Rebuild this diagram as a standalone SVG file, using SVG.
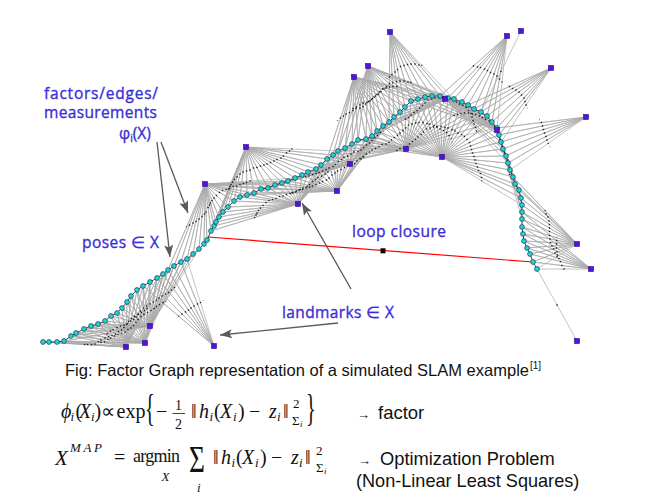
<svg xmlns="http://www.w3.org/2000/svg" width="648" height="503" viewBox="0 0 648 503">
<style>
.ln{fill:none;stroke:#ababab;stroke-width:.7;stroke-linejoin:round}
.fd{fill:none;stroke:none;marker-start:url(#md);marker-mid:url(#md);marker-end:url(#md)}
.tr{fill:none;stroke:#303030;stroke-width:.9;marker-start:url(#mp);marker-mid:url(#mp);marker-end:url(#mp)}
.lm{fill:#5212e0;stroke:#2b0a80;stroke-width:.6}
.lb{font-family:"Open Sans","Noto Sans",sans-serif;font-size:15.5px;fill:#3a2fd6;stroke:#3a2fd6;stroke-width:.35px}
.ar{stroke:#5a5a5a;stroke-width:1.3;fill:none;marker-end:url(#ah)}
.cap{font-family:"Liberation Sans",Arial,sans-serif;fill:#111}
.m{font-family:"Liberation Serif","Times New Roman",serif;fill:#111;font-size:20px}
.big{font-family:"Liberation Serif","Times New Roman",serif;fill:#111;font-size:37px}
.i{font-style:italic}
.s{font-size:13px}
.ss{font-size:9px;font-style:italic}
</style>
<defs>
<polyline id="tp" points="43,342 49,342 57,342 64,341 71,336 76,333 84,329 91,326 98,324 105,321 111,316 117,313 122,308 127,302 131,296 137,290 143,286 150,282 157,278 163,274 168,270 174,266 181,262 187,259 193,254 199,249 204,244 207,240 211,231 214,226 216,222 219,217 223,212 228,207 234,201 240,197 247,195 254,193 261,189 268,188 275,185 282,183 288,181 295,178 302,175 308,172 316,169 321,165 327,159 333,155 338,151 345,148 352,144 358,140 366,139 372,136 377,131 383,126 389,122 394,117 400,112 405,107 411,101 418,99 425,97 432,96 440,96 448,98 454,99 462,102 468,105 474,109 481,112 487,116 492,122 497,128 499,135 501,142 503,149 506,156 508,163 510,170 513,177 515,184 519,190 521,198 522,205 522,212 522,219 522,227 523,234 524,241 527,248 530,254 533,262 537,269"/>
<marker id="mp" markerUnits="userSpaceOnUse" markerWidth="8" markerHeight="8" refX="4" refY="4" overflow="visible"><circle cx="4" cy="4" r="2.4" fill="#1ed6d6" stroke="#1d3550" stroke-width=".7"/></marker>
<marker id="md" markerUnits="userSpaceOnUse" markerWidth="4" markerHeight="4" refX="2" refY="2" overflow="visible"><rect x="0.6" y="0.6" width="2.8" height="2.8" fill="#1a1a1a"/></marker>
<marker id="ah" markerUnits="userSpaceOnUse" markerWidth="13" markerHeight="10" refX="12" refY="5" orient="auto" overflow="visible"><path d="M0,0.5 L12,5 L0,9.5 L2.5,5 Z" fill="#5a5a5a"/></marker>
<clipPath id="k1"><circle cx="126" cy="347" r="46.8"/></clipPath>
<clipPath id="k2"><circle cx="145" cy="343" r="46.8"/></clipPath>
<clipPath id="k3"><circle cx="150" cy="326" r="46.8"/></clipPath>
<clipPath id="k4"><circle cx="214" cy="346" r="46.8"/></clipPath>
<clipPath id="k5"><circle cx="205" cy="184" r="46.8"/></clipPath>
<clipPath id="k6"><circle cx="246" cy="147" r="46.8"/></clipPath>
<clipPath id="k7"><circle cx="298" cy="204" r="46.8"/></clipPath>
<clipPath id="k8"><circle cx="337" cy="191" r="46.8"/></clipPath>
<clipPath id="k9"><circle cx="350" cy="164" r="46.8"/></clipPath>
<clipPath id="k10"><circle cx="354" cy="77" r="46.8"/></clipPath>
<clipPath id="k11"><circle cx="368" cy="66" r="46.8"/></clipPath>
<clipPath id="k12"><circle cx="390" cy="32" r="46.8"/></clipPath>
<clipPath id="k13"><circle cx="406" cy="149" r="46.8"/></clipPath>
<clipPath id="k14"><circle cx="442" cy="157" r="46.8"/></clipPath>
<clipPath id="k15"><circle cx="445" cy="99" r="46.8"/></clipPath>
<clipPath id="k16"><circle cx="497" cy="130" r="46.8"/></clipPath>
<clipPath id="k17"><circle cx="507" cy="36" r="46.8"/></clipPath>
<clipPath id="k19"><circle cx="551" cy="68" r="46.8"/></clipPath>
<clipPath id="k20"><circle cx="586" cy="117" r="46.8"/></clipPath>
<clipPath id="k21"><circle cx="577" cy="244" r="46.8"/></clipPath>
<clipPath id="k22"><circle cx="591" cy="269" r="46.8"/></clipPath>
</defs>
<rect width="648" height="503" fill="#fff"/>

<g id="connectors">
<g id="measurements">
<path class="ln" d="M126 347 43 342 126 347 49 342 126 347 57 342 126 347 64 341 126 347 71 336 126 347 76 333 126 347 84 329 126 347 91 326 126 347 98 324 126 347 105 321 126 347 111 316 126 347 117 313 126 347 122 308 126 347 127 302 126 347 131 296 126 347 137 290 126 347 143 286 126 347 150 282 126 347 157 278 126 347 163 274 126 347 168 270"/>
<path class="ln" d="M145 343 57 342 145 343 64 341 145 343 71 336 145 343 76 333 145 343 84 329 145 343 91 326 145 343 98 324 145 343 105 321 145 343 111 316 145 343 117 313 145 343 122 308 145 343 127 302 145 343 131 296 145 343 137 290 145 343 143 286 145 343 150 282 145 343 157 278 145 343 163 274 145 343 168 270 145 343 174 266 145 343 181 262"/>
<path class="ln" d="M150 326 64 341 150 326 71 336 150 326 76 333 150 326 84 329 150 326 91 326 150 326 98 324 150 326 105 321 150 326 111 316 150 326 117 313 150 326 122 308 150 326 127 302 150 326 131 296 150 326 137 290 150 326 143 286 150 326 150 282 150 326 157 278 150 326 163 274 150 326 168 270 150 326 174 266 150 326 181 262 150 326 187 259 150 326 193 254 150 326 199 249"/>
<path class="ln" d="M214 346 143 286 214 346 150 282 214 346 157 278 214 346 163 274 214 346 168 270 214 346 174 266 214 346 181 262 214 346 187 259"/>
<path class="ln" d="M205 184 168 270 205 184 174 266 205 184 181 262 205 184 187 259 205 184 193 254 205 184 199 249 205 184 204 244 205 184 207 240 205 184 211 231 205 184 214 226 205 184 216 222 205 184 219 217 205 184 223 212 205 184 228 207 205 184 234 201 205 184 240 197 205 184 247 195 205 184 254 193 205 184 261 189 205 184 268 188 205 184 275 185 205 184 282 183 205 184 288 181 205 184 295 178"/>
<path class="ln" d="M246 147 211 231 246 147 214 226 246 147 216 222 246 147 219 217 246 147 223 212 246 147 228 207 246 147 234 201 246 147 240 197 246 147 247 195 246 147 254 193 246 147 261 189 246 147 268 188 246 147 275 185 246 147 282 183 246 147 288 181 246 147 295 178 246 147 302 175 246 147 308 172 246 147 316 169 246 147 321 165 246 147 327 159 246 147 333 155 246 147 338 151"/>
<path class="ln" d="M298 204 211 231 298 204 214 226 298 204 216 222 298 204 219 217 298 204 223 212 298 204 228 207 298 204 234 201 298 204 240 197 298 204 247 195 298 204 254 193 298 204 261 189 298 204 268 188 298 204 275 185 298 204 282 183 298 204 288 181 298 204 295 178 298 204 302 175 298 204 308 172 298 204 316 169 298 204 321 165 298 204 327 159 298 204 333 155 298 204 338 151 298 204 345 148 298 204 352 144 298 204 358 140"/>
<path class="ln" d="M337 191 247 195 337 191 254 193 337 191 261 189 337 191 268 188 337 191 275 185 337 191 282 183 337 191 288 181 337 191 295 178 337 191 302 175 337 191 308 172 337 191 316 169 337 191 321 165 337 191 327 159 337 191 333 155 337 191 338 151 337 191 345 148 337 191 352 144 337 191 358 140 337 191 366 139 337 191 372 136 337 191 377 131 337 191 383 126 337 191 389 122 337 191 394 117"/>
<path class="ln" d="M350 164 261 189 350 164 268 188 350 164 275 185 350 164 282 183 350 164 288 181 350 164 295 178 350 164 302 175 350 164 308 172 350 164 316 169 350 164 321 165 350 164 327 159 350 164 333 155 350 164 338 151 350 164 345 148 350 164 352 144 350 164 358 140 350 164 366 139 350 164 372 136 350 164 377 131 350 164 383 126 350 164 389 122 350 164 394 117 350 164 400 112 350 164 405 107 350 164 411 101"/>
<path class="ln" d="M354 77 327 159 354 77 333 155 354 77 338 151 354 77 345 148 354 77 352 144 354 77 358 140 354 77 366 139 354 77 372 136 354 77 377 131 354 77 383 126 354 77 389 122 354 77 394 117 354 77 400 112 354 77 405 107 354 77 411 101 354 77 418 99 354 77 425 97 354 77 432 96 354 77 440 96"/>
<path class="ln" d="M368 66 338 151 368 66 345 148 368 66 352 144 368 66 358 140 368 66 366 139 368 66 372 136 368 66 377 131 368 66 383 126 368 66 389 122 368 66 394 117 368 66 400 112 368 66 405 107 368 66 411 101 368 66 418 99 368 66 425 97 368 66 432 96 368 66 440 96 368 66 448 98 368 66 454 99"/>
<path class="ln" d="M390 32 389 122 390 32 394 117 390 32 400 112 390 32 405 107 390 32 411 101 390 32 418 99 390 32 425 97 390 32 432 96 390 32 440 96 390 32 448 98 390 32 454 99"/>
<path class="ln" d="M406 149 316 169 406 149 321 165 406 149 327 159 406 149 333 155 406 149 338 151 406 149 345 148 406 149 352 144 406 149 358 140 406 149 366 139 406 149 372 136 406 149 377 131 406 149 383 126 406 149 389 122 406 149 394 117 406 149 400 112 406 149 405 107 406 149 411 101 406 149 418 99 406 149 425 97 406 149 432 96 406 149 440 96 406 149 448 98 406 149 454 99 406 149 462 102 406 149 468 105 406 149 474 109 406 149 481 112 406 149 487 116 406 149 492 122 406 149 497 128"/>
<path class="ln" d="M442 157 352 144 442 157 358 140 442 157 366 139 442 157 372 136 442 157 377 131 442 157 383 126 442 157 389 122 442 157 394 117 442 157 400 112 442 157 405 107 442 157 411 101 442 157 418 99 442 157 425 97 442 157 432 96 442 157 440 96 442 157 448 98 442 157 454 99 442 157 462 102 442 157 468 105 442 157 474 109 442 157 481 112 442 157 487 116 442 157 492 122 442 157 497 128 442 157 499 135 442 157 501 142 442 157 503 149 442 157 506 156 442 157 508 163 442 157 510 170 442 157 513 177 442 157 515 184 442 157 519 190 442 157 521 198 442 157 522 205"/>
<path class="ln" d="M445 99 366 139 445 99 372 136 445 99 377 131 445 99 383 126 445 99 389 122 445 99 394 117 445 99 400 112 445 99 405 107 445 99 411 101 445 99 418 99 445 99 425 97 445 99 432 96 445 99 440 96 445 99 448 98 445 99 454 99 445 99 462 102 445 99 468 105 445 99 474 109 445 99 481 112 445 99 487 116 445 99 492 122 445 99 497 128 445 99 499 135 445 99 501 142 445 99 503 149 445 99 506 156 445 99 508 163"/>
<path class="ln" d="M497 130 411 101 497 130 418 99 497 130 425 97 497 130 432 96 497 130 440 96 497 130 448 98 497 130 454 99 497 130 462 102 497 130 468 105 497 130 474 109 497 130 481 112 497 130 487 116 497 130 492 122 497 130 499 135 497 130 501 142 497 130 503 149 497 130 506 156 497 130 508 163 497 130 510 170 497 130 513 177 497 130 515 184 497 130 519 190 497 130 521 198 497 130 522 205 497 130 522 212 497 130 522 219"/>
<path class="ln" d="M507 36 440 96 507 36 448 98 507 36 454 99 507 36 462 102 507 36 468 105 507 36 474 109 507 36 481 112 507 36 487 116 507 36 492 122 507 36 497 128"/>
<path class="ln" d="M521 31 481 112"/>
<path class="ln" d="M551 68 468 105 551 68 474 109 551 68 481 112 551 68 487 116 551 68 492 122 551 68 497 128 551 68 499 135 551 68 501 142"/>
<path class="ln" d="M586 117 497 128 586 117 499 135 586 117 501 142 586 117 503 149 586 117 506 156 586 117 508 163 586 117 510 170"/>
<path class="ln" d="M577 244 513 177 577 244 515 184 577 244 519 190 577 244 521 198 577 244 522 205 577 244 522 212 577 244 522 219 577 244 522 227 577 244 523 234 577 244 524 241 577 244 527 248 577 244 530 254 577 244 533 262 577 244 537 269"/>
<path class="ln" d="M591 269 522 212 591 269 522 219 591 269 522 227 591 269 523 234 591 269 524 241 591 269 527 248 591 269 530 254 591 269 533 262 591 269 537 269"/>
<path class="ln" d="M577 341 537 269"/>
</g>
<g id="factor-nodes">
<g clip-path="url(#k1)"><use href="#tp" class="fd" transform="translate(63 173.5) scale(.5)"/></g>
<g clip-path="url(#k2)"><use href="#tp" class="fd" transform="translate(72.5 171.5) scale(.5)"/></g>
<g clip-path="url(#k3)"><use href="#tp" class="fd" transform="translate(75 163) scale(.5)"/></g>
<g clip-path="url(#k4)"><use href="#tp" class="fd" transform="translate(107 173) scale(.5)"/></g>
<g clip-path="url(#k5)"><use href="#tp" class="fd" transform="translate(102.5 92) scale(.5)"/></g>
<g clip-path="url(#k6)"><use href="#tp" class="fd" transform="translate(123 73.5) scale(.5)"/></g>
<g clip-path="url(#k7)"><use href="#tp" class="fd" transform="translate(149 102) scale(.5)"/></g>
<g clip-path="url(#k8)"><use href="#tp" class="fd" transform="translate(168.5 95.5) scale(.5)"/></g>
<g clip-path="url(#k9)"><use href="#tp" class="fd" transform="translate(175 82) scale(.5)"/></g>
<g clip-path="url(#k10)"><use href="#tp" class="fd" transform="translate(177 38.5) scale(.5)"/></g>
<g clip-path="url(#k11)"><use href="#tp" class="fd" transform="translate(184 33) scale(.5)"/></g>
<g clip-path="url(#k12)"><use href="#tp" class="fd" transform="translate(195 16) scale(.5)"/></g>
<g clip-path="url(#k13)"><use href="#tp" class="fd" transform="translate(203 74.5) scale(.5)"/></g>
<g clip-path="url(#k14)"><use href="#tp" class="fd" transform="translate(221 78.5) scale(.5)"/></g>
<g clip-path="url(#k15)"><use href="#tp" class="fd" transform="translate(222.5 49.5) scale(.5)"/></g>
<g clip-path="url(#k16)"><use href="#tp" class="fd" transform="translate(248.5 65) scale(.5)"/></g>
<g clip-path="url(#k17)"><use href="#tp" class="fd" transform="translate(253.5 18) scale(.5)"/></g>
<g clip-path="url(#k19)"><use href="#tp" class="fd" transform="translate(275.5 34) scale(.5)"/></g>
<g clip-path="url(#k20)"><use href="#tp" class="fd" transform="translate(293 58.5) scale(.5)"/></g>
<g clip-path="url(#k21)"><use href="#tp" class="fd" transform="translate(288.5 122) scale(.5)"/></g>
<g clip-path="url(#k22)"><use href="#tp" class="fd" transform="translate(295.5 134.5) scale(.5)"/></g>
<rect x="500.3" y="70.8" width="1.4" height="1.4" fill="#1a1a1a"/>
<rect x="556.3" y="304.3" width="1.4" height="1.4" fill="#1a1a1a"/>
</g>
<g id="loop-closure-edge">
<line x1="208" y1="237" x2="533" y2="262" stroke="#ff0000" stroke-width="1.2"/>
<rect x="380.5" y="248.3" width="5" height="5" fill="#000"/>
</g>
</g>

<g id="poses"><use href="#tp" class="tr"/></g>

<g id="landmarks">
<rect class="lm" x="123.5" y="344.5" width="5" height="5"/>
<rect class="lm" x="142.5" y="340.5" width="5" height="5"/>
<rect class="lm" x="147.5" y="323.5" width="5" height="5"/>
<rect class="lm" x="211.5" y="343.5" width="5" height="5"/>
<rect class="lm" x="202.5" y="181.5" width="5" height="5"/>
<rect class="lm" x="243.5" y="144.5" width="5" height="5"/>
<rect class="lm" x="295.5" y="201.5" width="5" height="5"/>
<rect class="lm" x="334.5" y="188.5" width="5" height="5"/>
<rect class="lm" x="347.5" y="161.5" width="5" height="5"/>
<rect class="lm" x="351.5" y="74.5" width="5" height="5"/>
<rect class="lm" x="365.5" y="63.5" width="5" height="5"/>
<rect class="lm" x="387.5" y="29.5" width="5" height="5"/>
<rect class="lm" x="403.5" y="146.5" width="5" height="5"/>
<rect class="lm" x="439.5" y="154.5" width="5" height="5"/>
<rect class="lm" x="442.5" y="96.5" width="5" height="5"/>
<rect class="lm" x="494.5" y="127.5" width="5" height="5"/>
<rect class="lm" x="504.5" y="33.5" width="5" height="5"/>
<rect class="lm" x="518.5" y="28.5" width="5" height="5"/>
<rect class="lm" x="548.5" y="65.5" width="5" height="5"/>
<rect class="lm" x="583.5" y="114.5" width="5" height="5"/>
<rect class="lm" x="574.5" y="241.5" width="5" height="5"/>
<rect class="lm" x="588.5" y="266.5" width="5" height="5"/>
<rect class="lm" x="574.5" y="338.5" width="5" height="5"/>
</g>

<g id="annotation-arrows">
<line class="ar" x1="157" y1="142" x2="170" y2="257"/>
<line class="ar" x1="161" y1="142" x2="188" y2="213"/>
<line class="ar" x1="351" y1="289" x2="302" y2="203"/>
<line class="ar" x1="338" y1="323" x2="220" y2="335"/>
</g>

<g id="labels">
<g id="label-factors">
<text class="lb" x="158" y="99" text-anchor="end" textLength="114">factors/edges/</text>
<text class="lb" x="157" y="117.5" text-anchor="end" textLength="113">measurements</text>
<text class="lb" x="119" y="138.5">φ<tspan font-size="10" dy="3">i</tspan><tspan dy="-3">(X)</tspan></text>
</g>
<text id="label-poses" class="lb" x="82" y="248" textLength="77">poses ∈ X</text>
<text id="label-loop" class="lb" x="352" y="237" textLength="94">loop closure</text>
<text id="label-landmarks" class="lb" x="282" y="317.5" textLength="112">landmarks ∈ X</text>
</g>

<g id="caption">
<text class="cap" x="65" y="375.7" font-size="16.5" textLength="464">Fig: Factor Graph representation of a simulated SLAM example</text>
<text class="cap" x="530" y="368.5" font-size="10">[1]</text>
</g>

<g id="formula-factor">
<text class="m"><tspan class="i" x="61" y="418">ϕ</tspan><tspan class="i s" x="70.5" y="421">i</tspan><tspan x="75.5" y="418">(</tspan><tspan class="i" x="79" y="418">X</tspan><tspan class="i s" x="91" y="421">i</tspan><tspan x="94.5" y="418">)</tspan><tspan x="101" y="418">∝</tspan><tspan x="116.5" y="418">exp</tspan><tspan x="156" y="418">−</tspan><tspan font-size="14" x="175" y="409.5">1</tspan><tspan font-size="14" x="175" y="428.5">2</tspan><tspan x="191" y="418">‖</tspan><tspan class="i" x="199" y="418">h</tspan><tspan class="i s" x="209.5" y="421">i</tspan><tspan x="214" y="418">(</tspan><tspan class="i" x="220" y="418">X</tspan><tspan class="i s" x="233" y="421">i</tspan><tspan x="238" y="418">)</tspan><tspan x="249" y="418">−</tspan><tspan class="i" x="269" y="418">z</tspan><tspan class="i s" x="277" y="421">i</tspan><tspan x="283" y="418">‖</tspan><tspan class="s" x="293" y="408">2</tspan><tspan class="s" x="292" y="425">Σ</tspan><tspan class="ss" x="300" y="427">i</tspan></text>
<line x1="172.5" y1="413.5" x2="185" y2="413.5" stroke="#111" stroke-width=".8"/>
<text class="big" transform="translate(145 421) scale(.55 1)">{</text>
<text class="big" transform="translate(306 421) scale(.55 1)">}</text>
</g>
<g id="label-factor">
<text class="cap" x="357" y="419" font-size="13">→</text>
<text class="cap" x="378" y="419.3" font-size="18.5">factor</text>
</g>

<g id="formula-map">
<text class="m"><tspan class="i" x="55" y="465" font-size="21">X</tspan><tspan class="i" x="70" y="452" font-size="13" textLength="32">MAP</tspan><tspan x="114" y="464">=</tspan><tspan x="133" y="462" font-size="18" textLength="47">argmin</tspan><tspan class="i s" x="161.5" y="481">X</tspan><tspan class="i s" x="197" y="492">i</tspan><tspan x="213" y="464">‖</tspan><tspan class="i" x="221" y="464">h</tspan><tspan class="i s" x="231.5" y="467">i</tspan><tspan x="236" y="464">(</tspan><tspan class="i" x="242" y="464">X</tspan><tspan class="i s" x="255" y="467">i</tspan><tspan x="260" y="464">)</tspan><tspan x="271" y="464">−</tspan><tspan class="i" x="291" y="464">z</tspan><tspan class="i s" x="299" y="467">i</tspan><tspan x="305" y="464">‖</tspan><tspan class="s" x="316" y="455">2</tspan><tspan class="s" x="316" y="472">Σ</tspan><tspan class="ss" x="324" y="474">i</tspan></text>
<text class="big" style="font-size:38px" transform="translate(189 472) scale(.72 1)">Σ</text>
</g>
<g id="label-optimization">
<text class="cap" x="358" y="465" font-size="13">→</text>
<text class="cap" x="380" y="465" font-size="18.3">Optimization Problem</text>
<text class="cap" x="356" y="487" font-size="18.1">(Non-Linear Least Squares)</text>
</g>
</svg>
